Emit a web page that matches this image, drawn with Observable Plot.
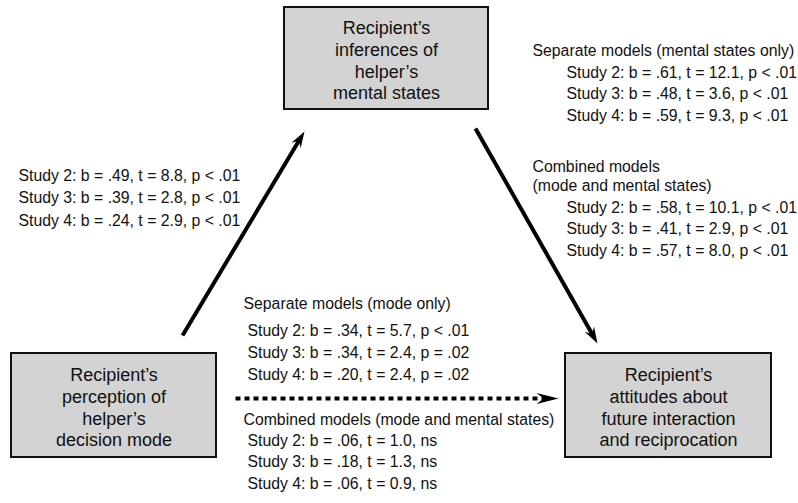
<!DOCTYPE html>
<html>
<head>
<meta charset="utf-8">
<script src="https://cdn.jsdelivr.net/npm/d3@7"></script>
<script src="https://cdn.jsdelivr.net/npm/@observablehq/plot@0.6"></script>
<style>
  html, body { margin: 0; padding: 0; background: #fff; overflow: hidden; }
  svg { display: block; }
</style>
</head>
<body>
<div id="chart"></div>
<script>
// ---------- DATA ----------
const studies = ["Study 2", "Study 3", "Study 4"];

const boxLabels = [
  "Recipient’s\ninferences of\nhelper’s\nmental states",
  "Recipient’s\nperception of\nhelper’s\ndecision mode",
  "Recipient’s\nattitudes about\nfuture interaction\nand reciprocation"
];

// mode -> mental states
const modeMentalB = [0.49, 0.39, 0.24];
const modeMentalT = [8.8, 2.8, 2.9];
const modeMentalP = ["p < .01", "p < .01", "p < .01"];

// mental states -> attitudes, separate models
const mentalSepB = [0.61, 0.48, 0.59];
const mentalSepT = [12.1, 3.6, 9.3];
const mentalSepP = ["p < .01", "p < .01", "p < .01"];

// mental states -> attitudes, combined models
const mentalCombB = [0.58, 0.41, 0.57];
const mentalCombT = [10.1, 2.9, 8.0];
const mentalCombP = ["p < .01", "p < .01", "p < .01"];

// mode -> attitudes, separate models
const modeSepB = [0.34, 0.34, 0.20];
const modeSepT = [5.7, 2.4, 2.4];
const modeSepP = ["p < .01", "p = .02", "p = .02"];

// mode -> attitudes, combined models
const modeCombB = [0.06, 0.18, 0.06];
const modeCombT = [1.0, 1.3, 0.9];
const modeCombP = ["ns", "ns", "ns"];

const headerMentalSep = ["Separate models (mental states only)"];
const headerMentalComb = ["Combined models", "(mode and mental states)"];
const headerModeSep = ["Separate models (mode only)"];
const headerModeComb = ["Combined models (mode and mental states)"];

// ---------- LAYOUT ----------
const W = 798, H = 503;
const boxGeom = [
  {x1: 284, x2: 488, y1: 7, y2: 109},
  {x1: 11, x2: 216, y1: 353, y2: 457},
  {x1: 565, x2: 771, y1: 353, y2: 457}
];
const fmtB = v => d3.format(".2f")(v).replace(/^0/, "");
const fmtT = v => d3.format(".1f")(v);
function statLines(B, T, P) {
  return studies.map((s, i) => `${s}: b = ${fmtB(B[i])}, t = ${fmtT(T[i])}, ${P[i]}`);
}
function block(lines, x, y0, gap) {
  return lines.map((text, i) => ({text, x, y: y0 + i * gap}));
}

const textRows = [
  ...block(statLines(modeMentalB, modeMentalT, modeMentalP), 18, 175, 22.5),
  ...block(headerMentalSep, 532, 50, 0),
  ...block(statLines(mentalSepB, mentalSepT, mentalSepP), 566, 72, 21.5),
  ...block(headerMentalComb, 532, 166, 19.5),
  ...block(statLines(mentalCombB, mentalCombT, mentalCombP), 566, 207, 21.5),
  ...block(headerModeSep, 243, 303, 0),
  ...block(statLines(modeSepB, modeSepT, modeSepP), 247, 330, 22),
  ...block(headerModeComb, 243, 419, 0),
  ...block(statLines(modeCombB, modeCombT, modeCombP), 247, 440, 21.5)
];

const boxes = boxLabels.map((label, i) => ({label, ...boxGeom[i]}));

const solidArrows = [
  {x1: 182, y1: 335, x2: 304, y2: 131},
  {x1: 475, y1: 128, x2: 597, y2: 343}
];
const dashedArrows = [{x1: 235, y1: 398, x2: 558, y2: 398}];

const ang = d => Math.atan2(d.y2 - d.y1, d.x2 - d.x1);
const shaftEnd = (d, back) => ({
  x: d.x2 - back * Math.cos(ang(d)),
  y: d.y2 - back * Math.sin(ang(d))
});

function headSymbol(len, half, notch) {
  return {
    draw(ctx, size) {
      const s = Math.sqrt(size);
      ctx.moveTo(0, 0);
      ctx.lineTo(-len * s, -half * s);
      ctx.lineTo(-notch * s, 0);
      ctx.lineTo(-len * s, half * s);
      ctx.closePath();
    }
  };
}
const solidHead = headSymbol(1.6, 0.52, 1.05);
const dashHead = headSymbol(2.0, 0.5, 1.35);

const chart = Plot.plot({
  width: W,
  height: H,
  margin: 0,
  x: {domain: [0, W], range: [0, W], axis: null},
  y: {domain: [0, H], range: [0, H], axis: null},
  style: {fontFamily: "'Liberation Sans', Arial, Helvetica, sans-serif", background: "#fff", color: "#000"},
  marks: [
    Plot.rect(boxes, {x1: "x1", x2: "x2", y1: "y1", y2: "y2", fill: "#d3d3d3", stroke: "#111", strokeWidth: 2}),
    Plot.text(boxes, {
      x: d => (d.x1 + d.x2) / 2, y: d => (d.y1 + d.y2) / 2 + 1,
      text: "label", fontSize: 18, lineHeight: 1.22, fill: "#111", textAnchor: "middle", lineAnchor: "middle"
    }),
    Plot.link(solidArrows, {
      x1: "x1", y1: "y1",
      x2: d => shaftEnd(d, 10).x, y2: d => shaftEnd(d, 10).y,
      stroke: "#000", strokeWidth: 4
    }),
    Plot.dot(solidArrows, {
      x: "x2", y: "y2", symbol: solidHead, r: 5.8,
      rotate: d => ang(d) * 180 / Math.PI, fill: "#000", stroke: "none"
    }),
    Plot.link(dashedArrows, {
      x1: "x1", y1: "y1",
      x2: d => shaftEnd(d, 12).x, y2: d => shaftEnd(d, 12).y,
      stroke: "#000", strokeWidth: 4, strokeDasharray: "5,4"
    }),
    Plot.dot(dashedArrows, {
      x: "x2", y: "y2", symbol: dashHead, r: 6.2,
      rotate: d => ang(d) * 180 / Math.PI, fill: "#000", stroke: "none"
    }),
    Plot.text(textRows, {x: "x", y: "y", text: "text", fontSize: 15.8, fill: "#111", textAnchor: "start", lineAnchor: "middle"})
  ]
});
document.getElementById("chart").appendChild(chart);
</script>
</body>
</html>
